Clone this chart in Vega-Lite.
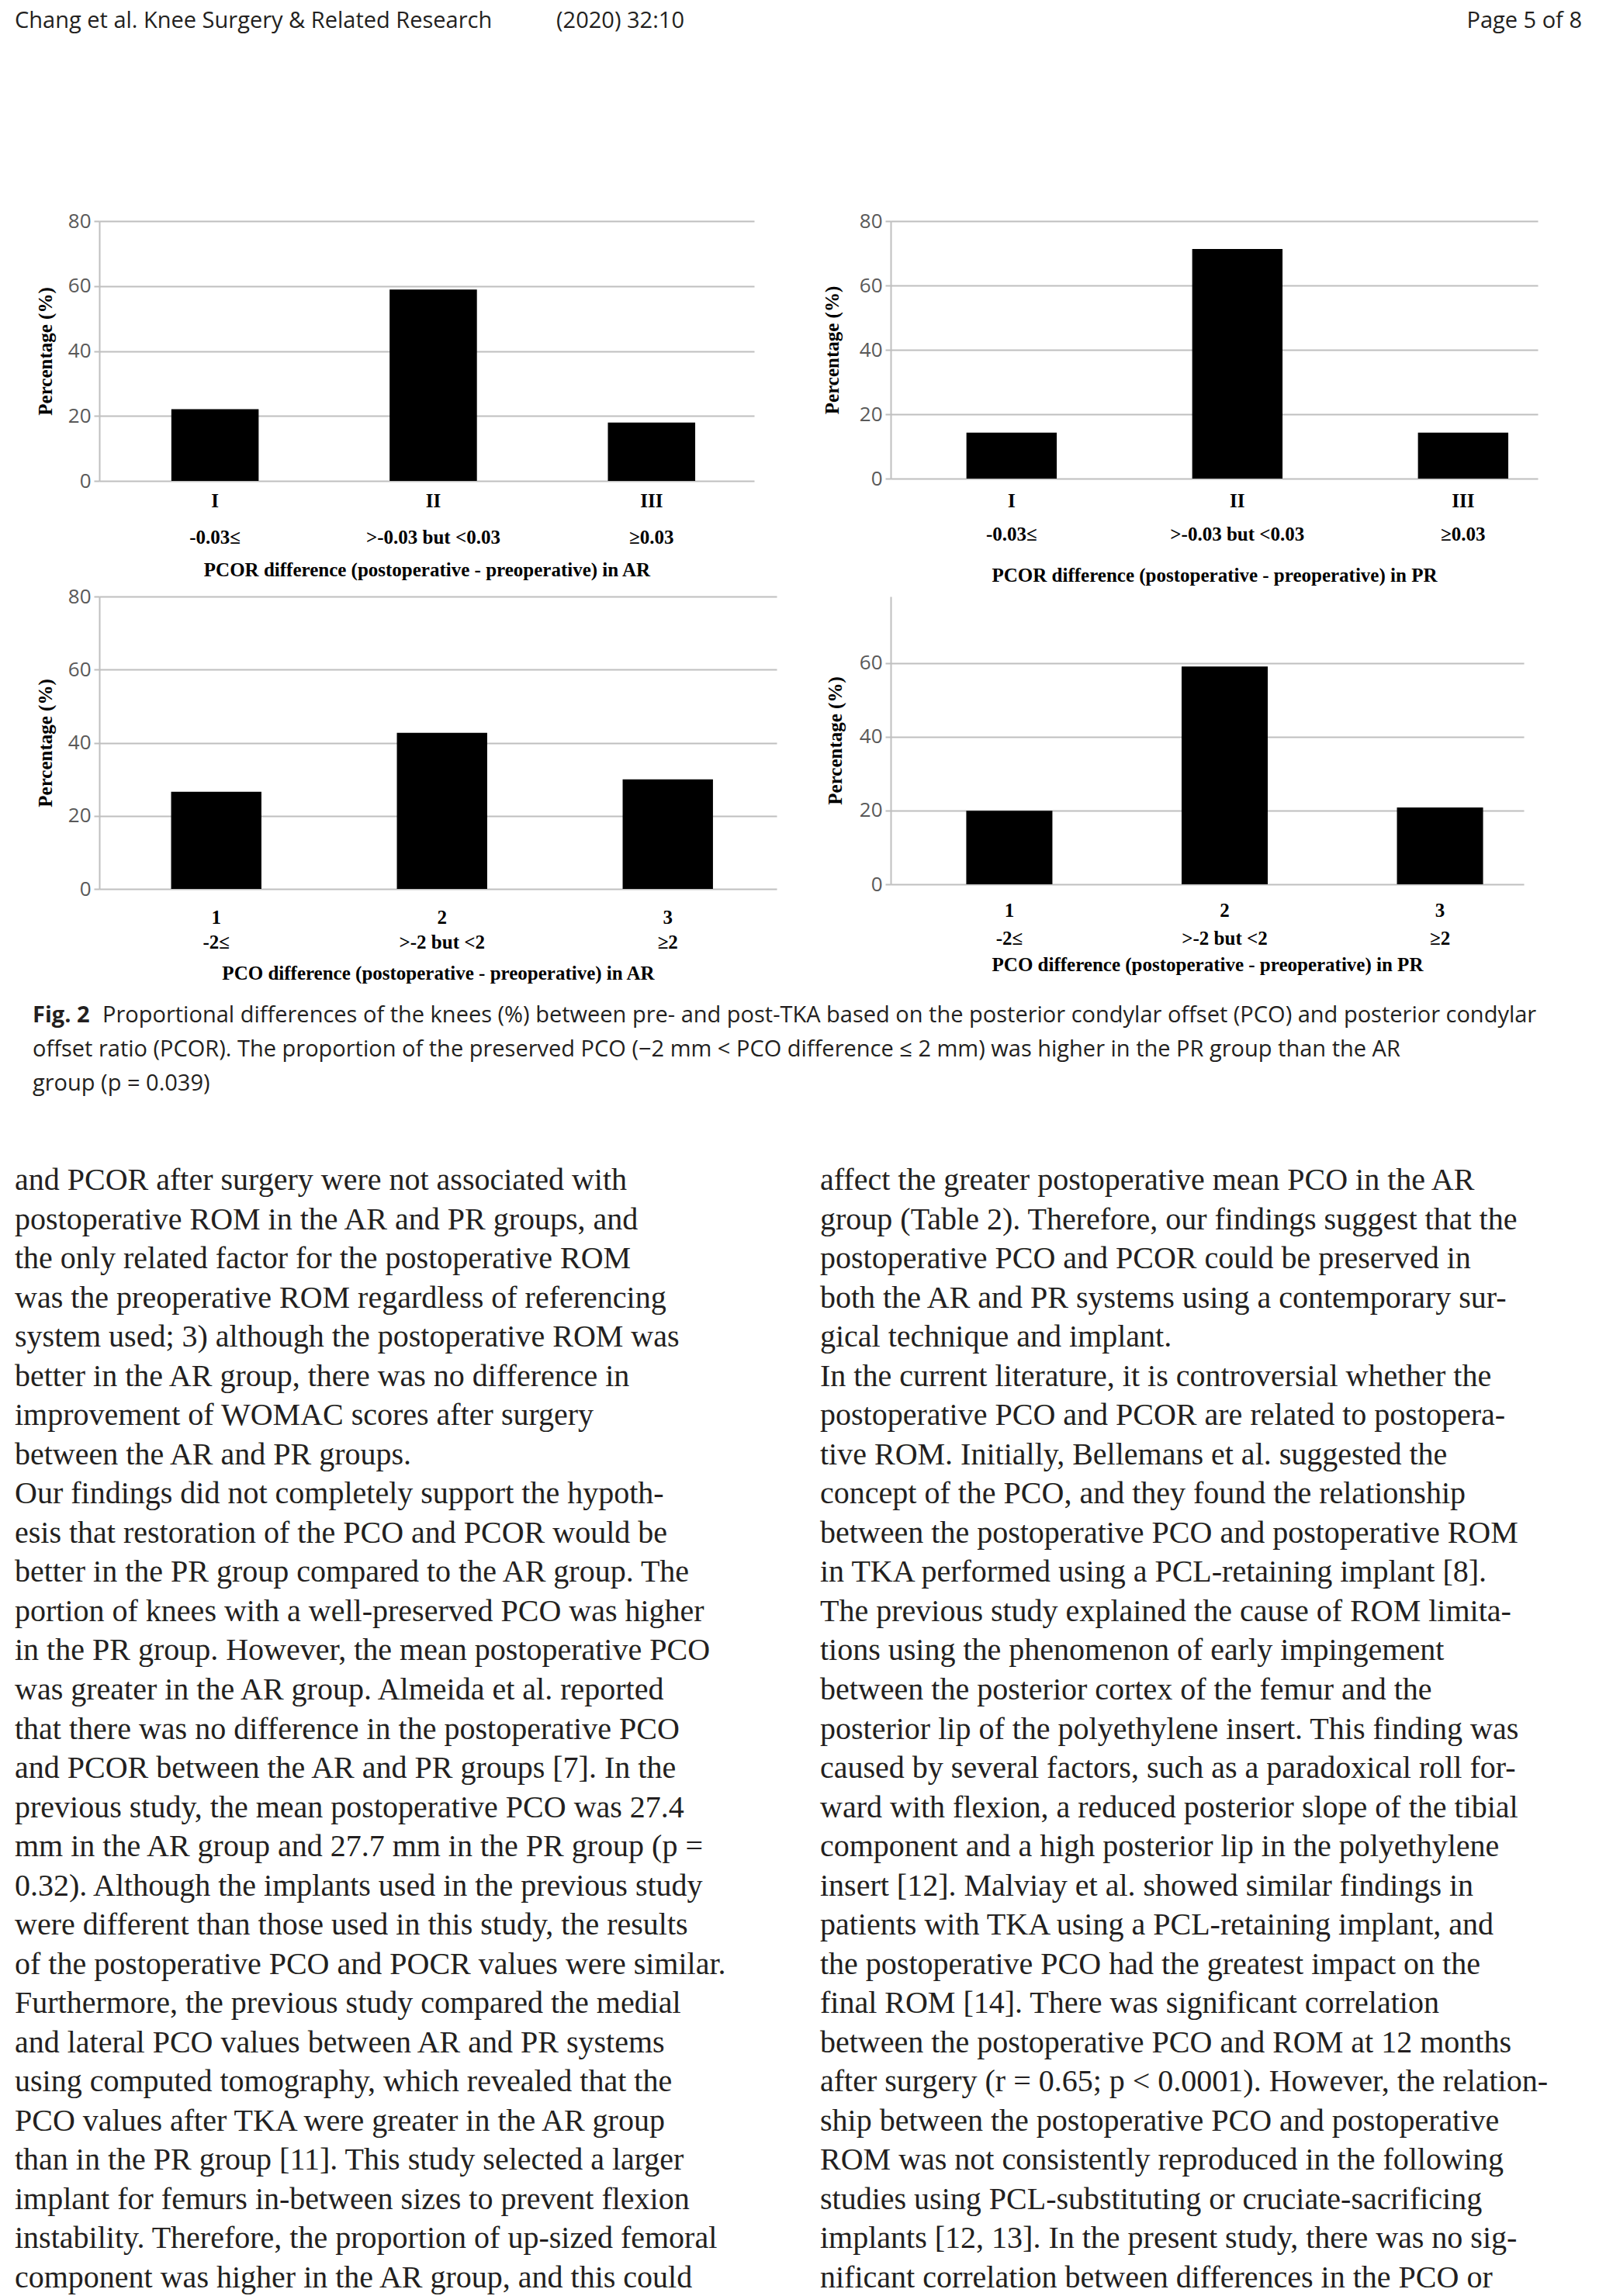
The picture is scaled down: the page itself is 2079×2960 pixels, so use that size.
{
  "$schema": "https://vega.github.io/schema/vega-lite/v6.json",
  "background": "white",
  "padding": {"left": 19, "top": 8, "right": 0, "bottom": 0},
  "spacing": 60,
  "config": {
    "view": {"stroke": null},
    "axisY": {
      "labelFont": "Open Sans",
      "labelFontSize": 26,
      "labelColor": "#595959",
      "labelPadding": 4,
      "gridColor": "#bfbfbf",
      "gridWidth": 2,
      "domainColor": "#bfbfbf",
      "domainWidth": 2,
      "tickColor": "#bfbfbf",
      "tickWidth": 2,
      "tickSize": 7,
      "titleFont": "Liberation Serif",
      "titleFontSize": 25,
      "titleFontWeight": "bold",
      "titleColor": "#000000"
    },
    "axisX": {
      "labelAngle": 0,
      "labelFont": "Liberation Serif",
      "labelFontSize": 25,
      "labelFontWeight": "bold",
      "labelColor": "#000000",
      "labelBaseline": "top",
      "labelOverlap": false,
      "labelLimit": 600,
      "ticks": false,
      "domain": false,
      "grid": false,
      "titleFont": "Liberation Serif",
      "titleFontSize": 25,
      "titleFontWeight": "bold",
      "titleColor": "#000000"
    }
  },
  "datasets": {
    "pcor_ar": [
      {"cat": "I|-0.03≤", "pct": 22.1},
      {"cat": "II|>-0.03 but <0.03", "pct": 58.9},
      {"cat": "III|≥0.03", "pct": 18.0}
    ],
    "pcor_pr": [
      {"cat": "I|-0.03≤", "pct": 14.3},
      {"cat": "II|>-0.03 but <0.03", "pct": 71.3},
      {"cat": "III|≥0.03", "pct": 14.3}
    ],
    "pco_ar": [
      {"cat": "1|-2≤", "pct": 26.6},
      {"cat": "2|>-2 but <2", "pct": 42.7},
      {"cat": "3|≥2", "pct": 30.0}
    ],
    "pco_pr": [
      {"cat": "1|-2≤", "pct": 19.9},
      {"cat": "2|>-2 but <2", "pct": 59.0},
      {"cat": "3|≥2", "pct": 20.8}
    ],
    "header": [
      {"side": "left", "text": "Chang et al. Knee Surgery & Related Research\u00a0\u00a0\u00a0\u00a0\u00a0\u00a0\u00a0\u00a0\u00a0\u00a0\u00a0(2020) 32:10"},
      {"side": "right", "text": "Page 5 of 8"}
    ],
    "caption": [
      {"line": 1, "lead": "Fig. 2", "text": "Proportional differences of the knees (%) between pre- and post-TKA based on the posterior condylar offset (PCO) and posterior condylar"},
      {"line": 2, "lead": "", "text": "offset ratio (PCOR). The proportion of the preserved PCO (−2 mm < PCO difference ≤ 2 mm) was higher in the PR group than the AR"},
      {"line": 3, "lead": "", "text": "group (p = 0.039)"}
    ],
    "body": [
      {"col": "L", "line": 1, "text": "and PCOR after surgery were not associated with"},
      {"col": "L", "line": 2, "text": "postoperative ROM in the AR and PR groups, and"},
      {"col": "L", "line": 3, "text": "the only related factor for the postoperative ROM"},
      {"col": "L", "line": 4, "text": "was the preoperative ROM regardless of referencing"},
      {"col": "L", "line": 5, "text": "system used; 3) although the postoperative ROM was"},
      {"col": "L", "line": 6, "text": "better in the AR group, there was no difference in"},
      {"col": "L", "line": 7, "text": "improvement of WOMAC scores after surgery"},
      {"col": "L", "line": 8, "text": "between the AR and PR groups."},
      {"col": "L", "line": 9, "text": "\u00a0\u00a0Our findings did not completely support the hypoth-"},
      {"col": "L", "line": 10, "text": "esis that restoration of the PCO and PCOR would be"},
      {"col": "L", "line": 11, "text": "better in the PR group compared to the AR group. The"},
      {"col": "L", "line": 12, "text": "portion of knees with a well-preserved PCO was higher"},
      {"col": "L", "line": 13, "text": "in the PR group. However, the mean postoperative PCO"},
      {"col": "L", "line": 14, "text": "was greater in the AR group. Almeida et al. reported"},
      {"col": "L", "line": 15, "text": "that there was no difference in the postoperative PCO"},
      {"col": "L", "line": 16, "text": "and PCOR between the AR and PR groups [7]. In the"},
      {"col": "L", "line": 17, "text": "previous study, the mean postoperative PCO was 27.4"},
      {"col": "L", "line": 18, "text": "mm in the AR group and 27.7 mm in the PR group (p ="},
      {"col": "L", "line": 19, "text": "0.32). Although the implants used in the previous study"},
      {"col": "L", "line": 20, "text": "were different than those used in this study, the results"},
      {"col": "L", "line": 21, "text": "of the postoperative PCO and POCR values were similar."},
      {"col": "L", "line": 22, "text": "Furthermore, the previous study compared the medial"},
      {"col": "L", "line": 23, "text": "and lateral PCO values between AR and PR systems"},
      {"col": "L", "line": 24, "text": "using computed tomography, which revealed that the"},
      {"col": "L", "line": 25, "text": "PCO values after TKA were greater in the AR group"},
      {"col": "L", "line": 26, "text": "than in the PR group [11]. This study selected a larger"},
      {"col": "L", "line": 27, "text": "implant for femurs in-between sizes to prevent flexion"},
      {"col": "L", "line": 28, "text": "instability. Therefore, the proportion of up-sized femoral"},
      {"col": "L", "line": 29, "text": "component was higher in the AR group, and this could"},
      {"col": "R", "line": 1, "text": "affect the greater postoperative mean PCO in the AR"},
      {"col": "R", "line": 2, "text": "group (Table 2). Therefore, our findings suggest that the"},
      {"col": "R", "line": 3, "text": "postoperative PCO and PCOR could be preserved in"},
      {"col": "R", "line": 4, "text": "both the AR and PR systems using a contemporary sur-"},
      {"col": "R", "line": 5, "text": "gical technique and implant."},
      {"col": "R", "line": 6, "text": "\u00a0\u00a0In the current literature, it is controversial whether the"},
      {"col": "R", "line": 7, "text": "postoperative PCO and PCOR are related to postopera-"},
      {"col": "R", "line": 8, "text": "tive ROM. Initially, Bellemans et al. suggested the"},
      {"col": "R", "line": 9, "text": "concept of the PCO, and they found the relationship"},
      {"col": "R", "line": 10, "text": "between the postoperative PCO and postoperative ROM"},
      {"col": "R", "line": 11, "text": "in TKA performed using a PCL-retaining implant [8]."},
      {"col": "R", "line": 12, "text": "The previous study explained the cause of ROM limita-"},
      {"col": "R", "line": 13, "text": "tions using the phenomenon of early impingement"},
      {"col": "R", "line": 14, "text": "between the posterior cortex of the femur and the"},
      {"col": "R", "line": 15, "text": "posterior lip of the polyethylene insert. This finding was"},
      {"col": "R", "line": 16, "text": "caused by several factors, such as a paradoxical roll for-"},
      {"col": "R", "line": 17, "text": "ward with flexion, a reduced posterior slope of the tibial"},
      {"col": "R", "line": 18, "text": "component and a high posterior lip in the polyethylene"},
      {"col": "R", "line": 19, "text": "insert [12]. Malviay et al. showed similar findings in"},
      {"col": "R", "line": 20, "text": "patients with TKA using a PCL-retaining implant, and"},
      {"col": "R", "line": 21, "text": "the postoperative PCO had the greatest impact on the"},
      {"col": "R", "line": 22, "text": "final ROM [14]. There was significant correlation"},
      {"col": "R", "line": 23, "text": "between the postoperative PCO and ROM at 12 months"},
      {"col": "R", "line": 24, "text": "after surgery (r = 0.65; p < 0.0001). However, the relation-"},
      {"col": "R", "line": 25, "text": "ship between the postoperative PCO and postoperative"},
      {"col": "R", "line": 26, "text": "ROM was not consistently reproduced in the following"},
      {"col": "R", "line": 27, "text": "studies using PCL-substituting or cruciate-sacrificing"},
      {"col": "R", "line": 28, "text": "implants [12, 13]. In the present study, there was no sig-"},
      {"col": "R", "line": 29, "text": "nificant correlation between differences in the PCO or"}
    ]
  },
  "vconcat": [
    {
      "spacing": 226,
      "vconcat": [
        {
          "width": 1911,
          "height": 38,
          "data": {"name": "header"},
          "layer": [
            {
              "transform": [{"filter": "datum.side == 'left'"}],
              "mark": {"type": "text", "align": "left", "baseline": "middle", "font": "Open Sans", "fontSize": 29, "dx": -109, "color": "#231f20"},
              "encoding": {
                "x": {"datum": 0, "type": "quantitative", "scale": {"domain": [0, 1]}, "axis": null},
                "text": {"field": "text"}
              }
            },
            {
              "transform": [{"filter": "datum.side == 'right'"}],
              "mark": {"type": "text", "align": "right", "baseline": "middle", "font": "Open Sans", "fontSize": 29, "color": "#231f20"},
              "encoding": {
                "x": {"datum": 1, "type": "quantitative", "scale": {"domain": [0, 1]}, "axis": null},
                "text": {"field": "text"}
              }
            }
          ]
        },
        {
          "spacing": 2,
          "vconcat": [
            {
              "spacing": 88,
              "hconcat": [
                {
                  "width": 844,
                  "height": 335,
                  "data": {"name": "pcor_ar"},
                  "mark": {"type": "bar", "color": "#000000"},
                  "encoding": {
                    "x": {"field": "cat", "type": "nominal", "sort": null,
                      "scale": {"paddingInner": 0.6, "paddingOuter": 0.3, "align": 0.55},
                      "axis": {"title": "PCOR difference (postoperative - preoperative) in AR", "labelExpr": "split(datum.value, '|')", "labelPadding": 13, "labelLineHeight": 47, "titlePadding": 17}},
                    "y": {"field": "pct", "type": "quantitative", "scale": {"domain": [0, 80], "nice": false},
                      "axis": {"values": [0, 20, 40, 60, 80], "title": "Percentage (%)", "titlePadding": 16}}
                  }
                },
                {
                  "width": 834,
                  "height": 332,
                  "data": {"name": "pcor_pr"},
                  "mark": {"type": "bar", "color": "#000000"},
                  "encoding": {
                    "x": {"field": "cat", "type": "nominal", "sort": null,
                      "scale": {"paddingInner": 0.6, "paddingOuter": 0.233, "align": 0.72},
                      "axis": {"title": "PCOR difference (postoperative - preoperative) in PR", "labelExpr": "split(datum.value, '|')", "labelPadding": 16, "labelLineHeight": 43, "titlePadding": 28}},
                    "y": {"field": "pct", "type": "quantitative", "scale": {"domain": [0, 80], "nice": false},
                      "axis": {"values": [0, 20, 40, 60, 80], "title": "Percentage (%)", "titlePadding": 22}}
                  }
                }
              ]
            },
            {
              "spacing": 63,
              "hconcat": [
                {
                  "width": 873,
                  "height": 377,
                  "data": {"name": "pco_ar"},
                  "mark": {"type": "bar", "color": "#000000"},
                  "encoding": {
                    "x": {"field": "cat", "type": "nominal", "sort": null,
                      "scale": {"paddingInner": 0.6, "paddingOuter": 0.3, "align": 0.53},
                      "axis": {"title": "PCO difference (postoperative - preoperative) in AR", "labelExpr": "split(datum.value, '|')", "labelPadding": 24, "labelLineHeight": 32, "titlePadding": 15}},
                    "y": {"field": "pct", "type": "quantitative", "scale": {"domain": [0, 80], "nice": false},
                      "axis": {"values": [0, 20, 40, 60, 80], "title": "Percentage (%)", "titlePadding": 16}}
                  }
                },
                {
                  "width": 816,
                  "height": 371,
                  "data": {"name": "pco_pr"},
                  "mark": {"type": "bar", "color": "#000000"},
                  "encoding": {
                    "x": {"field": "cat", "type": "nominal", "sort": null,
                      "scale": {"paddingInner": 0.6, "paddingOuter": 0.27, "align": 0.65},
                      "axis": {"title": "PCO difference (postoperative - preoperative) in PR", "labelExpr": "split(datum.value, '|')", "labelPadding": 21, "labelLineHeight": 36, "titlePadding": 9}},
                    "y": {"field": "pct", "type": "quantitative", "scale": {"domain": [0, 78], "nice": false},
                      "axis": {"values": [0, 20, 40, 60], "title": "Percentage (%)", "titlePadding": 18}}
                  }
                }
              ]
            },
            {
              "width": 1911,
              "height": 168,
              "data": {"name": "caption"},
              "encoding": {
                "y": {"field": "line", "type": "ordinal", "axis": null, "scale": {"type": "point", "padding": 0.93}},
                "x": {"datum": 0, "type": "quantitative", "scale": {"domain": [0, 1]}, "axis": null}
              },
              "layer": [
                {
                  "transform": [{"filter": "datum.line == 1"}],
                  "mark": {"type": "text", "align": "left", "baseline": "middle", "font": "Open Sans", "fontSize": 29, "fontWeight": "bold", "dx": -86, "color": "#231f20"},
                  "encoding": {"text": {"field": "lead"}}
                },
                {
                  "transform": [{"filter": "datum.line == 1"}],
                  "mark": {"type": "text", "align": "left", "baseline": "middle", "font": "Open Sans", "fontSize": 29, "dx": 4, "color": "#231f20"},
                  "encoding": {"text": {"field": "text"}}
                },
                {
                  "transform": [{"filter": "datum.line > 1"}],
                  "mark": {"type": "text", "align": "left", "baseline": "middle", "font": "Open Sans", "fontSize": 29, "dx": -86, "color": "#231f20"},
                  "encoding": {"text": {"field": "text"}}
                }
              ]
            }
          ]
        }
      ]
    },
    {
      "width": 1038,
      "height": 1465,
      "data": {"name": "body"},
      "mark": {"type": "text", "align": "left", "baseline": "middle", "font": "Liberation Serif", "fontSize": 40, "dx": -109, "color": "#231f20"},
      "encoding": {
        "x": {"field": "col", "type": "nominal", "axis": null, "scale": {"type": "point", "padding": 0}},
        "y": {"field": "line", "type": "ordinal", "axis": null, "scale": {"type": "point", "padding": 0.5}},
        "text": {"field": "text"}
      }
    }
  ]
}
